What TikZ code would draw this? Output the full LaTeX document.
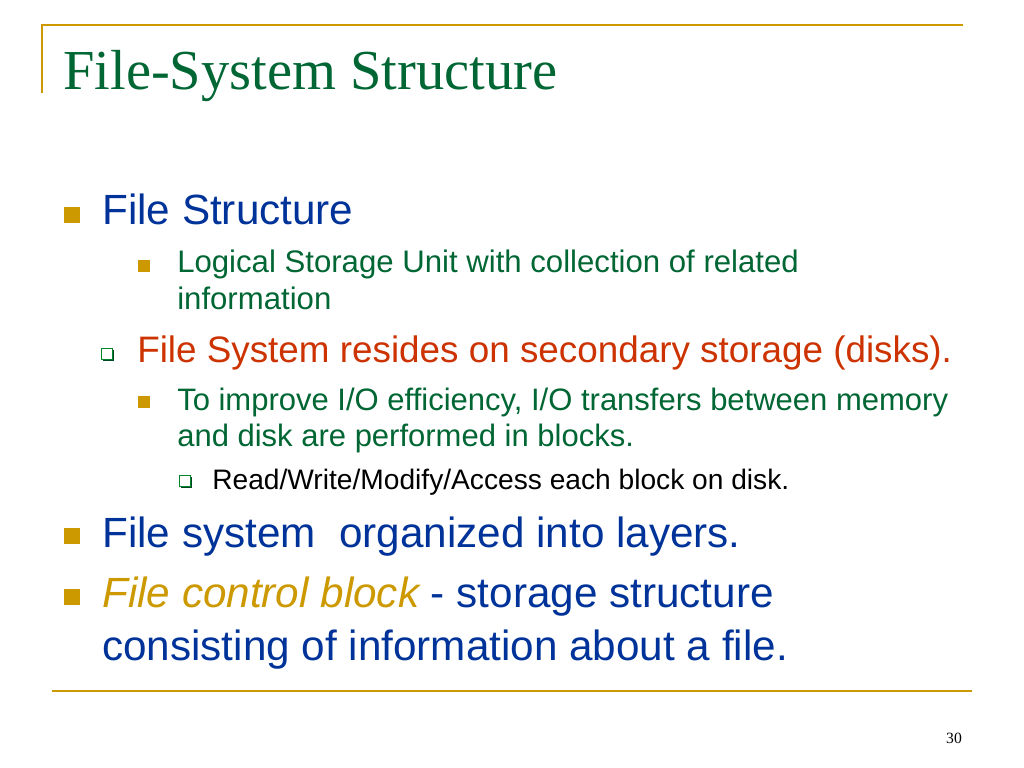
\documentclass[tikz,border=0pt]{standalone}
\usepackage{fontspec}
\setmainfont{Liberation Sans}
\newfontfamily\titlefont{Liberation Serif}
\usetikzlibrary{shadows}
\definecolor{gold}{RGB}{204,153,0}
\definecolor{slidegreen}{RGB}{0,102,51}
\definecolor{slideblue}{RGB}{0,51,153}
\definecolor{slidered}{RGB}{204,51,0}
\tikzset{
  txt/.style={anchor=base west, inner sep=0pt},
  rule/.style={draw=gold, line width=1.4pt},
  solidbullet/.style={fill=gold, minimum size=#1, inner sep=0pt},
  hollowbullet/.style={draw=slidegreen!80!green, fill=white, line width=0.9pt,
    minimum size=#1, inner sep=0pt,
    drop shadow={shadow xshift=1.1pt, shadow yshift=-1.1pt, fill=slidegreen!70!black, opacity=1}}
}
\begin{document}
\begin{tikzpicture}[x=0.703125pt, y=-0.703125pt]
      \fill[white] (0,0) rectangle (1024,768);
      \useasboundingbox (0,0) rectangle (1024,768);

      % frame rules
       \coordinate (tl) at (42,25);
       \coordinate (tr) at (963,25);
       \coordinate (lb) at (42,93);
       \coordinate (bl) at (52,691);
       \coordinate (br) at (972,691);
       \draw [rule] (lb) -- (tl) -- (tr);
       \draw [rule, line width=1.2pt] (bl) -- (br);

      % title
       \node[txt, text=slidegreen] (title) at (63,90)
         {\titlefont\fontsize{39.7}{44}\selectfont File-System Structure};

      % file structure
       \node[solidbullet=11.25pt] (b1) at (72,215) {};
       \node[txt, text=slideblue] (t1) at (102,225)
         {\fontsize{29.7}{36}\selectfont File Structure};
       \node[solidbullet=8.4pt] (b2) at (144,266) {};
       \node[txt, text=slidegreen] (t2) at (177,273)
         {\fontsize{21.9}{26}\selectfont Logical Storage Unit with collection of related};
       \node[txt, text=slidegreen] (t2b) at (177,309)
         {\fontsize{21.9}{26}\selectfont information};

      % secondary storage
       \node[hollowbullet=7.4pt] (b3) at (107,354) {};
       \node[txt, text=slidered] (t3) at (137,362)
         {\fontsize{25.9}{31}\selectfont File System resides on secondary storage (disks).};
       \node[solidbullet=8.4pt] (b4) at (144,402) {};
       \node[txt, text=slidegreen] (t4) at (177,410)
         {\fontsize{21.8}{26}\selectfont To improve I/O efficiency, I/O transfers between memory};
       \node[txt, text=slidegreen] (t4b) at (177,446)
         {\fontsize{21.8}{26}\selectfont and disk are performed in blocks.};
       \node[hollowbullet=7.4pt] (b5) at (185,481) {};
       \node[txt, text=black] (t5) at (212,489)
         {\fontsize{19.8}{24}\selectfont Read/Write/Modify/Access each block on disk.};

      % layers and fcb
       \node[solidbullet=11.25pt] (b6) at (72,536) {};
       \node[txt, text=slideblue] (t6) at (102,547)
         {\fontsize{29.7}{36}\selectfont File system~ organized into layers.};
       \node[solidbullet=11.25pt] (b7) at (72,597) {};
       \node[txt, text=slideblue] (t7) at (102,607)
         {\fontsize{29.7}{36}\selectfont \textcolor{gold}{\itshape File control block} - storage structure};
       \node[txt, text=slideblue] (t7b) at (102,660)
         {\fontsize{29.7}{36}\selectfont consisting of information about a file.};

      % page number
       \node[anchor=base, inner sep=0pt] (page) at (954,743)
         {\titlefont\fontsize{11}{13}\selectfont 30};
    \end{tikzpicture}
\end{document}
